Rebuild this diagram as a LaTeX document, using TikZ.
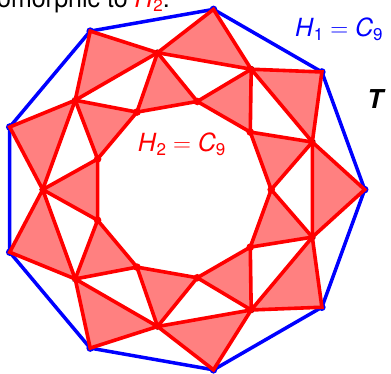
\documentclass[tikz,border=0pt]{standalone}
\usepackage{fontspec}
\setmainfont{TeX Gyre Heros}
\usetikzlibrary{calc}
\newcommand\mylab[2]{\textit{#1}\raisebox{-3.6pt}{\fontsize{17}{18}\selectfont #2}}
\begin{document}
\begin{tikzpicture}[x=1pt,y=1pt,
  blueedge/.style={draw=blue,line width=3.5pt,line join=round},
  trifill/.style={fill=red!50},
  triedge/.style={draw=red,line width=3.6pt,line join=miter},
  bdot/.style={fill=blue},
  mdot/.style={fill=black},
  rdot/.style={fill=red},
  lab/.style={font=\fontsize{25}{29}\selectfont,inner sep=0pt}]
\useasboundingbox (0,0) rectangle (391,373);
\clip (0,0) rectangle (391,373);
\coordinate (O) at (181.7,183.4);
\foreach \k in {0,...,8}{
  \pgfmathsetmacro\a{40*\k}
  \coordinate (B\k) at ($(O)+(\a:183)$);
  \coordinate (M\k) at ($(O)+(\a+20:139)$);
  \coordinate (I\k) at ($(O)+(\a:89.5)$);
}
% outer nonagon H1
\draw[blueedge] (B0) -- (B1) -- (B2) -- (B3) -- (B4) -- (B5) -- (B6) -- (B7) -- (B8) -- cycle;
\foreach \k in {0,...,8}{
  \fill[bdot] (B\k) circle (3.8);
  \fill[mdot] (M\k) circle (3.2);
}
% triangle fills
\foreach \k [evaluate=\k as \p using {int(mod(\k+8,9))},
             evaluate=\k as \n using {int(mod(\k+1,9))}] in {0,...,8}{
  \fill[trifill] (B\k) -- (M\p) -- (M\k) -- cycle;
  \fill[trifill] (M\k) -- (I\k) -- (I\n) -- cycle;
}
% triangle edges
\foreach \k [evaluate=\k as \p using {int(mod(\k+8,9))},
             evaluate=\k as \n using {int(mod(\k+1,9))}] in {0,...,8}{
  \draw[triedge] (B\k) -- (M\p) -- (M\k) -- cycle;
  \draw[triedge] (M\k) -- (I\k) -- (I\n) -- cycle;
}
\foreach \k in {0,...,8}{
  \fill[rdot] (I\k) circle (3.8);
}
% labels
\node[lab,text=blue,anchor=base west] (h1) at (295,336.3) {\mylab{H}{1}${}={}$\mylab{C}{9}};
\node[lab,text=red,anchor=base] (h2) at (181.7,221.3) {\mylab{H}{2}${}={}$\mylab{C}{9}};
\node[lab,anchor=base west,font=\fontsize{26}{30}\selectfont\bfseries\itshape] (t) at (367,264.7) {T};
\node[lab,anchor=base east] (top) at (170,365) {isomorphic to \textcolor{red}{\mylab{H}{2}}.};
\end{tikzpicture}
\end{document}
